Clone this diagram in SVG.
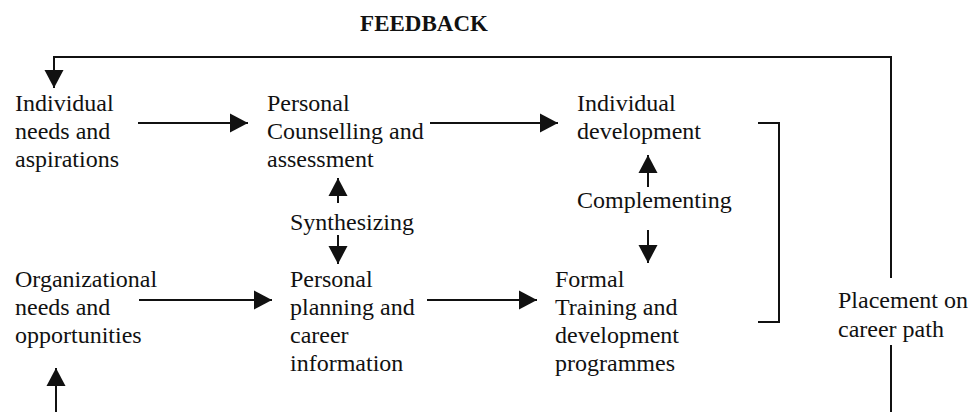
<svg xmlns="http://www.w3.org/2000/svg" width="972" height="412" viewBox="0 0 972 412">
  <defs>
    <marker id="head" markerUnits="userSpaceOnUse" markerWidth="19" markerHeight="20" refX="18" refY="9.5" orient="auto" overflow="visible">
      <path d="M0,0 L18,9.5 L0,19 Z" fill="#111"/>
    </marker>
    <style>
      text { font-family: "Liberation Serif", "Times New Roman", serif; font-size: 24px; fill: #111; }
      .title { font-weight: bold; font-size: 23px; }
      .line { fill: none; stroke: #111; stroke-width: 2; }
      .arrow { fill: none; stroke: #111; stroke-width: 2; marker-end: url(#head); }
    </style>
  </defs>
  <rect width="972" height="412" fill="#fff"/>

  <text class="title" x="424" y="31" text-anchor="middle">FEEDBACK</text>

  <g id="individual-needs">
    <text x="15" y="111">Individual</text>
    <text x="15" y="139">needs and</text>
    <text x="15" y="167">aspirations</text>
  </g>
  <g id="counselling">
    <text x="267" y="111">Personal</text>
    <text x="267" y="139">Counselling and</text>
    <text x="267" y="167">assessment</text>
  </g>
  <g id="individual-development">
    <text x="577" y="111">Individual</text>
    <text x="577" y="139">development</text>
  </g>
  <g id="synthesizing">
    <text x="290" y="230">Synthesizing</text>
  </g>
  <g id="complementing">
    <text x="577" y="208">Complementing</text>
  </g>
  <g id="organizational-needs">
    <text x="15" y="287">Organizational</text>
    <text x="15" y="315">needs and</text>
    <text x="15" y="343">opportunities</text>
  </g>
  <g id="personal-planning">
    <text x="290" y="287">Personal</text>
    <text x="290" y="315">planning and</text>
    <text x="290" y="343">career</text>
    <text x="290" y="371">information</text>
  </g>
  <g id="formal-training">
    <text x="555" y="287">Formal</text>
    <text x="555" y="315">Training and</text>
    <text x="555" y="343">development</text>
    <text x="555" y="371">programmes</text>
  </g>
  <g id="placement">
    <text x="838" y="308">Placement on</text>
    <text x="838" y="337">career path</text>
  </g>

  <g id="connectors">
    <!-- feedback loop from placement back to individual needs -->
    <polyline class="line" points="891,278 891,57 54,57 54,70"/>
    <path class="arrow" d="M54,68 L54,88"/>
    <line class="line" x1="891" y1="345" x2="891" y2="412"/>
    <!-- bottom feed into organizational needs -->
    <path class="arrow" d="M56,412 L56,368"/>
    <!-- top row flows -->
    <path class="arrow" d="M138,123 L248,123"/>
    <path class="arrow" d="M430,123 L558,123"/>
    <!-- bottom row flows -->
    <path class="arrow" d="M139,300 L272,300"/>
    <path class="arrow" d="M427,300 L537,300"/>
    <!-- synthesizing arrows -->
    <path class="arrow" d="M338,203 L338,178"/>
    <path class="arrow" d="M338,235 L338,264"/>
    <!-- complementing arrows -->
    <path class="arrow" d="M648,187 L648,155"/>
    <path class="arrow" d="M648,230 L648,263"/>
    <!-- bracket grouping development outcomes -->
    <polyline class="line" points="758,123 779,123 779,322 758,322"/>
  </g>
</svg>
